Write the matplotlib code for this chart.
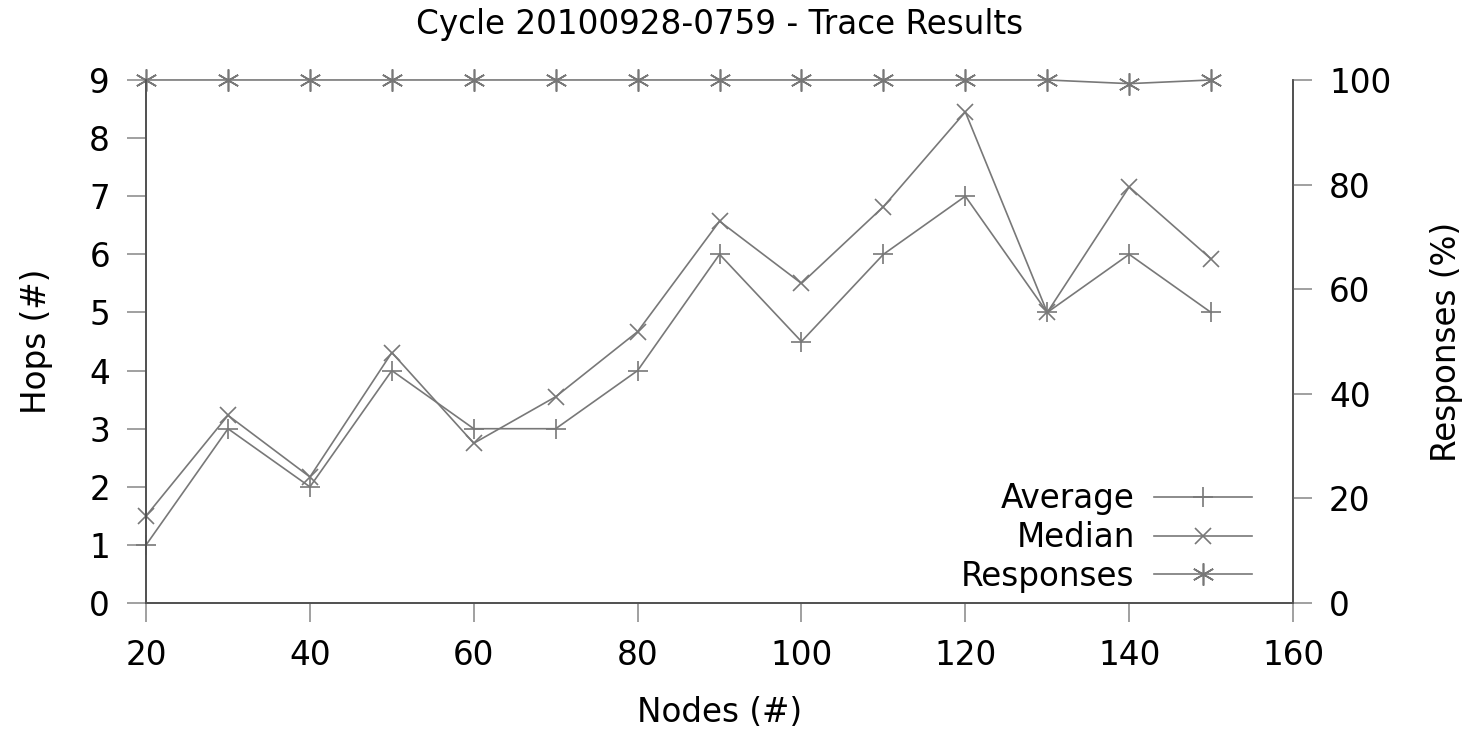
import matplotlib
matplotlib.use("Agg")
import matplotlib.pyplot as plt

# data
nodes = [20, 30, 40, 50, 60, 70, 80, 90, 100, 110, 120, 130, 140, 150]
hops_average = [1, 3, 2, 4, 3, 3, 4, 6, 4.5, 6, 7, 5, 6, 5]
hops_median = [1.5, 3.23, 2.17, 4.31, 2.75, 3.55, 4.67, 6.57, 5.5, 6.82, 8.45, 5.0, 7.16, 5.92]
responses = [100, 100, 100, 100, 100, 100, 100, 100, 100, 100, 100, 100, 99.3, 100]

plt.rcParams['font.family'] = 'DejaVu Sans'
plt.rcParams['font.size'] = 23.5

line_col = '#787878'
axis_col = '#505050'

fig = plt.figure(figsize=(14.71, 7.31), dpi=100)
ax = fig.add_axes([0.0993, 0.175, 0.7797, 0.7156])
ax2 = ax.twinx()

l1, = ax.plot(nodes, hops_average, color=line_col, lw=1.2, marker='+', ms=14, mew=1.2,
              clip_on=False, label='Average')
l2, = ax.plot(nodes, hops_median, color=line_col, lw=1.2, marker='x', ms=11, mew=1.2,
              clip_on=False, label='Median')
l3, = ax2.plot(nodes, responses, color=line_col, lw=1.2, marker=(6, 2, 0), ms=16, mew=1.2,
               clip_on=False, label='Responses')

ax.set_xlim(20, 160)
ax.set_ylim(0, 9)
ax2.set_ylim(0, 100)
ax.set_xticks(range(20, 161, 20))
ax.set_yticks(range(0, 10))
ax2.set_yticks(range(0, 101, 20))

for a in (ax, ax2):
    a.spines['top'].set_visible(False)
    for s in ('left', 'right', 'bottom'):
        a.spines[s].set_color(axis_col)
        a.spines[s].set_linewidth(1.2)
    a.tick_params(direction='out', length=14, width=1.2, color='#909090', pad=12)

ax.set_title('Cycle 20100928-0759 - Trace Results', fontsize=23.5, pad=33)
ax.set_xlabel('Nodes (#)', labelpad=17)
ax.set_ylabel('Hops (#)', labelpad=26)
ax2.set_ylabel('Responses (%)', labelpad=28)

ax2.legend([l1, l2, l3], ['Average', 'Median', 'Responses'], loc='lower right',
           bbox_to_anchor=(0.99, -0.036), frameon=False, markerfirst=False,
           handlelength=3.0, labelspacing=0.17, handletextpad=0.6, fontsize=23.5)

fig.savefig('out.png', dpi=100)
